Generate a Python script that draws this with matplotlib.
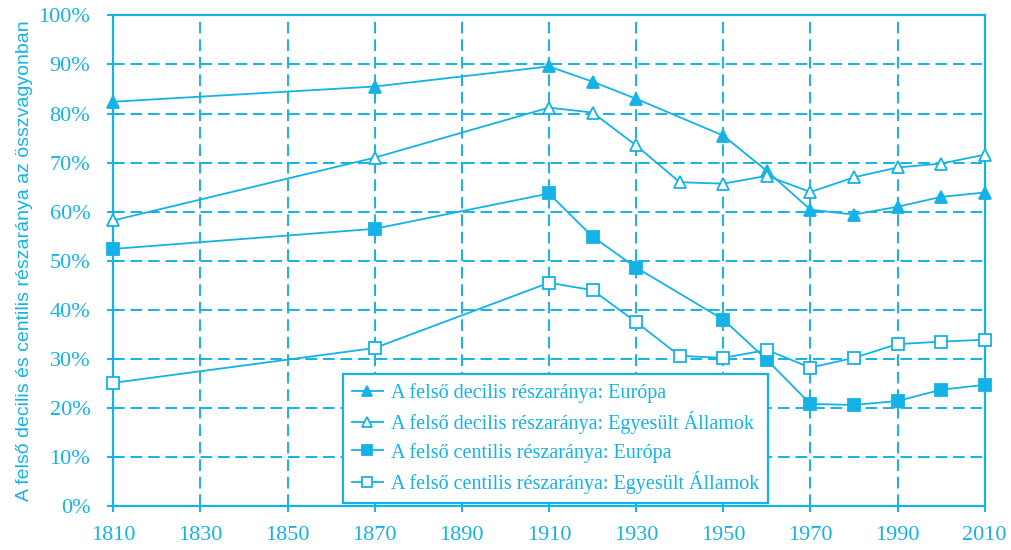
import matplotlib
matplotlib.use("Agg")
import matplotlib.pyplot as plt
from matplotlib.ticker import FuncFormatter

CYAN = "#14b2e6"

# --- data (percent share of total wealth) ---
years_eu = [1810, 1870, 1910, 1920, 1930, 1950, 1960, 1970, 1980, 1990, 2000, 2010]
years_us = [1810, 1870, 1910, 1920, 1930, 1940, 1950, 1960, 1970, 1980, 1990, 2000, 2010]

decile_eu = [82.4, 85.5, 89.6, 86.5, 83.0, 75.5, 68.3, 60.4, 59.4, 61.0, 63.0, 63.9]
decile_us = [58.2, 71.0, 81.2, 80.2, 73.5, 66.0, 65.7, 67.3, 64.0, 67.0, 69.0, 69.8, 71.6]
centile_eu = [52.4, 56.5, 63.7, 54.9, 48.6, 38.0, 29.8, 20.8, 20.6, 21.4, 23.7, 24.7]
centile_us = [25.1, 32.2, 45.5, 44.0, 37.5, 30.6, 30.2, 31.8, 28.2, 30.2, 33.0, 33.5, 33.9]

labels = [
    "A felső decilis részaránya: Európa",
    "A felső decilis részaránya: Egyesült Államok",
    "A felső centilis részaránya: Európa",
    "A felső centilis részaránya: Egyesült Államok",
]

x_ticks = list(range(1810, 2011, 20))
y_ticks = list(range(0, 101, 10))

fig = plt.figure(figsize=(10.11, 5.5), dpi=100)
ax = fig.add_axes([0.112, 0.08, 0.862, 0.892])

common = dict(color=CYAN, linewidth=1.3, markersize=9, markeredgewidth=1.3,
              markeredgecolor=CYAN, clip_on=False, zorder=3)
ax.plot(years_eu, decile_eu, marker="^", markerfacecolor=CYAN, label=labels[0], **common)
ax.plot(years_us, decile_us, marker="^", markerfacecolor="white", label=labels[1], **common)
ax.plot(years_eu, centile_eu, marker="s", markerfacecolor=CYAN, label=labels[2], **common)
ax.plot(years_us, centile_us, marker="s", markerfacecolor="white", label=labels[3], **common)

ax.set_xlim(1810, 2010)
ax.set_ylim(0, 100)
ax.set_xticks(x_ticks)
ax.set_yticks(y_ticks)
ax.yaxis.set_major_formatter(FuncFormatter(lambda v, p: f"{int(v)}%"))

ax.grid(True, color=CYAN, linestyle=(0, (6, 3)), linewidth=1.4)
for s in ax.spines.values():
    s.set_color(CYAN)
    s.set_linewidth(1.6)
ax.tick_params(colors=CYAN, direction="inout", length=9, width=1.4, labelsize=16)
ax.tick_params(axis="x", pad=10)
ax.tick_params(axis="y", pad=12)
for lab in ax.get_xticklabels() + ax.get_yticklabels():
    lab.set_fontfamily("Liberation Serif")
    lab.set_color(CYAN)

ax.set_ylabel("A felső decilis és centilis részaránya az összvagyonban",
              fontsize=14, color=CYAN, family="Liberation Sans", labelpad=4)

leg = ax.legend(loc="lower left", bbox_to_anchor=(0.264, 0.006), borderaxespad=0,
                fancybox=False, frameon=True, borderpad=0.45, handlelength=1.5,
                handletextpad=0.4, labelspacing=0.42,
                prop={"family": "Liberation Serif", "size": 14.5})
leg.get_frame().set_edgecolor(CYAN)
leg.get_frame().set_linewidth(1.6)
leg.get_frame().set_alpha(1)
leg.set_zorder(5)
for t in leg.get_texts():
    t.set_color(CYAN)
for h in leg.legend_handles:
    h.set_markersize(7)

fig.savefig("out.png", dpi=100)
